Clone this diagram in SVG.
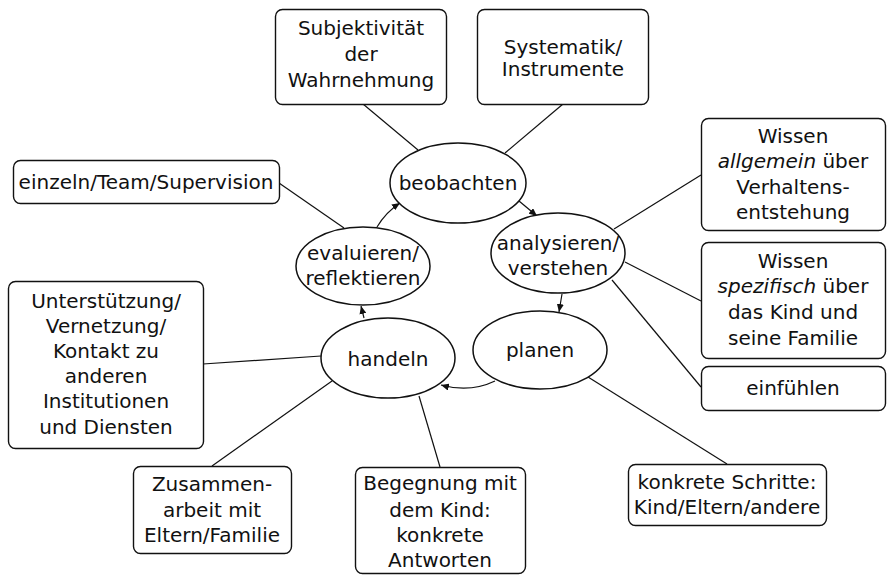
<svg xmlns="http://www.w3.org/2000/svg" width="887" height="575" viewBox="0 0 887 575">
<style>
text{font-family:"DejaVu Sans","Open Sans",sans-serif;font-size:20px;fill:#111;text-anchor:middle}
.box{fill:#fff;stroke:#111;stroke-width:1.4}
.ell{fill:#fff;stroke:#111;stroke-width:1.5}
.ln{fill:none;stroke:#111;stroke-width:1.2}
.ar{fill:none;stroke:#111;stroke-width:1.2;marker-end:url(#ah)}
.it{font-style:italic}
</style>
<defs>
<marker id="ah" markerUnits="userSpaceOnUse" markerWidth="9" markerHeight="7" refX="8" refY="3.5" orient="auto">
<path d="M0,0 L8,3.5 L0,7 z" fill="#111"/>
</marker>
</defs>
<rect width="887" height="575" fill="#fff"/>
<g id="connectors">
<line class="ln" x1="363" y1="104" x2="418" y2="150"/>
<line class="ln" x1="563" y1="104" x2="505" y2="153"/>
<line class="ln" x1="279" y1="183" x2="344" y2="228"/>
<line class="ln" x1="701" y1="175" x2="614" y2="229"/>
<line class="ln" x1="625" y1="262" x2="701" y2="301"/>
<line class="ln" x1="612" y1="280" x2="701" y2="387"/>
<line class="ln" x1="203" y1="364" x2="321" y2="356"/>
<line class="ln" x1="332" y1="381" x2="212" y2="466"/>
<line class="ln" x1="419" y1="396" x2="440" y2="467"/>
<line class="ln" x1="588" y1="377" x2="727" y2="464"/>
<path class="ar" d="M377,227 Q386,212 400,203"/>
<path class="ar" d="M519,201 L537,216"/>
<path class="ar" d="M562,294 L559,312"/>
<path class="ar" d="M495,381 Q470,393 441,385"/>
<path class="ar" d="M364,318 L361,306"/>
</g>
<g id="beobachten"><ellipse class="ell" cx="458" cy="183" rx="68" ry="40"/><text x="458" y="190">beobachten</text></g>
<g id="evaluieren"><ellipse class="ell" cx="363" cy="266" rx="67" ry="39"/><text x="363" y="260">evaluieren/</text><text x="363" y="285">reflektieren</text></g>
<g id="analysieren"><ellipse class="ell" cx="558" cy="253" rx="67" ry="40"/><text x="558" y="250">analysieren/</text><text x="558" y="275">verstehen</text></g>
<g id="planen"><ellipse class="ell" cx="540" cy="350" rx="67" ry="39"/><text x="540" y="357">planen</text></g>
<g id="handeln"><ellipse class="ell" cx="388" cy="358" rx="67" ry="40"/><text x="388" y="366">handeln</text></g>
<g id="subjektivitaet"><rect class="box" x="275.5" y="9.5" width="171" height="95" rx="7"/><text x="361" y="35">Subjektivität</text><text x="361" y="61">der</text><text x="361" y="87">Wahrnehmung</text></g>
<g id="systematik"><rect class="box" x="477.5" y="9.5" width="171" height="95" rx="7"/><text x="563" y="54">Systematik/</text><text x="563" y="76">Instrumente</text></g>
<g id="einzeln"><rect class="box" x="13.5" y="160.5" width="266" height="43" rx="7"/><text x="146" y="189">einzeln/Team/Supervision</text></g>
<g id="wissen-allgemein"><rect class="box" x="701.5" y="118.5" width="184" height="112" rx="7"/><text x="793" y="143">Wissen</text><text x="793" y="168"><tspan class="it">allgemein</tspan> über</text><text x="793" y="194">Verhaltens-</text><text x="793" y="219">entstehung</text></g>
<g id="wissen-spezifisch"><rect class="box" x="701.5" y="242.5" width="184" height="116" rx="7"/><text x="793" y="268">Wissen</text><text x="793" y="293"><tspan class="it">spezifisch</tspan> über</text><text x="793" y="319">das Kind und</text><text x="793" y="345">seine Familie</text></g>
<g id="einfuehlen"><rect class="box" x="701.5" y="366.5" width="184" height="44" rx="7"/><text x="793" y="395">einfühlen</text></g>
<g id="unterstuetzung"><rect class="box" x="8.5" y="281.5" width="195" height="167" rx="7"/><text x="106" y="308">Unterstützung/</text><text x="106" y="333">Vernetzung/</text><text x="106" y="358">Kontakt zu</text><text x="106" y="383">anderen</text><text x="106" y="408">Institutionen</text><text x="106" y="434">und Diensten</text></g>
<g id="zusammenarbeit"><rect class="box" x="133.5" y="466.5" width="158" height="87" rx="7"/><text x="212" y="491">Zusammen-</text><text x="212" y="517">arbeit mit</text><text x="212" y="542">Eltern/Familie</text></g>
<g id="begegnung"><rect class="box" x="355.5" y="467.5" width="170" height="106" rx="7"/><text x="440" y="490">Begegnung mit</text><text x="440" y="517">dem Kind:</text><text x="440" y="542">konkrete</text><text x="440" y="567">Antworten</text></g>
<g id="konkrete-schritte"><rect class="box" x="628.5" y="464.5" width="198" height="61" rx="7"/><text x="727" y="489">konkrete Schritte:</text><text x="727" y="514">Kind/Eltern/andere</text></g>
</svg>
